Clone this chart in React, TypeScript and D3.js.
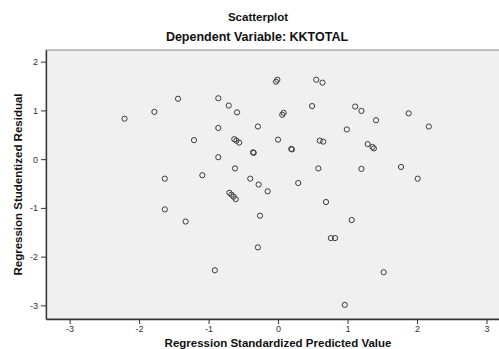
import { useEffect, useRef } from "react";
import * as d3 from "d3";

// Regression standardized predicted value (x) and studentized residual (y)
const predicted = [
  -2.21, -1.78, -1.44, -0.86, -0.71, -0.59, -0.86, -1.21, -0.63, -0.6, -0.56,
  -0.86, -1.63, -1.09, -0.62, -0.4, -0.7, -0.67, -0.64, -0.61, -1.63, -1.33,
  -0.91, -0.03, -0.01, 0.55, 0.64, 0.49, 0.08, 0.06, 1.11, 1.2, 1.41, 1.88,
  2.17, -0.29, 0.99, 0.0, -0.36, -0.35, 0.19, 0.2, 0.6, 0.65, 1.29, 1.36, 1.38,
  0.58, 1.2, 1.77, 2.01, -0.28, -0.15, 0.29, 0.69, -0.26, 1.06, 0.76, 0.82,
  -0.29, 1.52, 0.96,
];
const residual = [
  0.83, 0.97, 1.24, 1.25, 1.1, 0.96, 0.64, 0.39, 0.41, 0.38, 0.34, 0.04, -0.4,
  -0.33, -0.19, -0.4, -0.69, -0.73, -0.77, -0.82, -1.03, -1.28, -2.28, 1.59,
  1.63, 1.63, 1.57, 1.09, 0.95, 0.91, 1.08, 0.99, 0.8, 0.94, 0.67, 0.67, 0.61,
  0.4, 0.14, 0.13, 0.21, 0.2, 0.38, 0.36, 0.31, 0.25, 0.22, -0.19, -0.2, -0.16,
  -0.4, -0.52, -0.66, -0.49, -0.88, -1.16, -1.25, -1.62, -1.62, -1.81, -2.32,
  -2.99,
];
const xTicks = [-3, -2, -1, 0, 1, 2, 3];
const yTicks = [-3, -2, -1, 0, 1, 2];

const title = "Scatterplot";
const subtitle = "Dependent Variable: KKTOTAL";
const xLabel = "Regression Standardized Predicted Value";
const yLabel = "Regression Studentized Residual";

const WIDTH = 499;
const HEIGHT = 349;
const FONT = "'Liberation Sans', Arial, sans-serif";

export default function App() {
  const svgRef = useRef<SVGSVGElement | null>(null);

  useEffect(() => {
    const margin = { top: 50, right: 0, bottom: 30, left: 46 };
    const innerWidth = WIDTH - margin.left - margin.right;
    const innerHeight = HEIGHT - margin.top - margin.bottom;

    const svg = d3.select(svgRef.current);
    svg.selectAll("*").remove();

    const xScale = d3.scaleLinear().domain([-3.34, 3.18]).range([0, innerWidth]);
    const yScale = d3.scaleLinear().domain([-3.28, 2.24]).range([innerHeight, 0]);

    // titles
    svg
      .append("text")
      .attr("x", 258)
      .attr("y", 21)
      .attr("text-anchor", "middle")
      .style("font-family", FONT)
      .style("font-size", "11.5px")
      .style("font-weight", "bold")
      .style("fill", "#111")
      .text(title);

    svg
      .append("text")
      .attr("x", 257)
      .attr("y", 41)
      .attr("text-anchor", "middle")
      .style("font-family", FONT)
      .style("font-size", "12.5px")
      .style("font-weight", "bold")
      .style("fill", "#111")
      .text(subtitle);

    const g = svg
      .append("g")
      .attr("transform", `translate(${margin.left},${margin.top})`);

    g.append("rect")
      .attr("x", 0)
      .attr("y", 0)
      .attr("width", innerWidth + 2)
      .attr("height", innerHeight)
      .attr("fill", "#f0f0f0")
      .attr("stroke", "#8a8a8a")
      .attr("stroke-width", 1);

    const styleAxis = (ax: any) => {
      ax.select(".domain").attr("stroke", "#333").attr("stroke-width", 1.3);
      ax.selectAll(".tick line").attr("stroke", "#333");
      ax.selectAll("text")
        .style("font-family", FONT)
        .style("font-size", "9px")
        .style("fill", "#333");
    };

    const fmt = (d: any) => String(d);

    g.append("g")
      .attr("transform", `translate(0,${innerHeight})`)
      .call(
        d3
          .axisBottom(xScale)
          .tickValues(xTicks)
          .tickFormat(fmt)
          .tickSize(5)
          .tickSizeOuter(0)
          .tickPadding(2)
      )
      .call(styleAxis);

    g.append("g")
      .call(
        d3
          .axisLeft(yScale)
          .tickValues(yTicks)
          .tickFormat(fmt)
          .tickSize(5)
          .tickSizeOuter(0)
          .tickPadding(3)
      )
      .call(styleAxis);

    // points
    g.selectAll(".pt")
      .data(predicted.map((v, i) => ({ v, r: residual[i] })))
      .enter()
      .append("circle")
      .attr("class", "pt")
      .attr("cx", (d) => xScale(d.v))
      .attr("cy", (d) => yScale(d.r))
      .attr("r", 2.6)
      .attr("fill", "none")
      .attr("stroke", "#3a3a3a")
      .attr("stroke-width", 1);

    // axis titles
    svg
      .append("text")
      .attr("x", margin.left + xScale(0))
      .attr("y", 347)
      .attr("text-anchor", "middle")
      .style("font-family", FONT)
      .style("font-size", "11.5px")
      .style("font-weight", "bold")
      .style("fill", "#111")
      .text(xLabel);

    svg
      .append("text")
      .attr("transform", `translate(22,${margin.top + innerHeight / 2}) rotate(-90)`)
      .attr("text-anchor", "middle")
      .style("font-family", FONT)
      .style("font-size", "11.5px")
      .style("font-weight", "bold")
      .style("fill", "#111")
      .text(yLabel);
  }, []);

  return (
    <svg
      ref={svgRef}
      width={WIDTH}
      height={HEIGHT}
      style={{ position: "absolute", left: 0, top: 0, display: "block", background: "#fff" }}
    />
  );
}
